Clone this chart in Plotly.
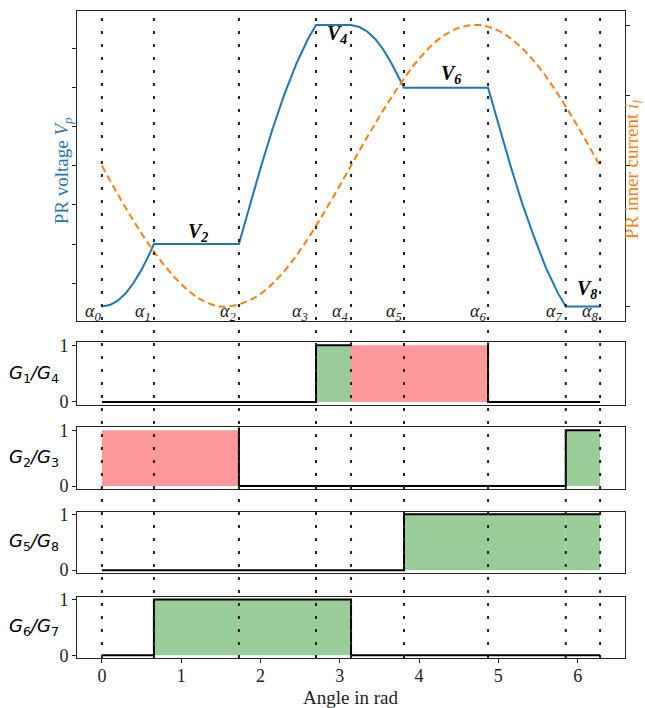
import plotly.graph_objects as go

# Switching angles alpha_0 ... alpha_8 (rad)
alpha = [0.0, 0.656, 1.728, 2.700, 3.142, 3.810, 4.870, 5.850, 6.283]

# PR voltage v_p over one period (arbitrary units)
theta_v = [0.0, 0.1, 0.2, 0.3, 0.4, 0.5, 0.6, 0.656,
           1.728, 1.85, 2.0, 2.15, 2.3, 2.45, 2.6, 2.70,
           3.142, 3.25, 3.35, 3.45, 3.55, 3.65, 3.75, 3.81,
           4.87, 5.0, 5.15, 5.3, 5.45, 5.6, 5.75, 5.85,
           6.283]
vp = [-3.60, -3.56, -3.45, -3.26, -2.99, -2.66, -2.25, -2.00,
      -2.00, -1.11, -0.06, 0.93, 1.82, 2.60, 3.25, 3.60,
      3.60, 3.55, 3.43, 3.24, 2.97, 2.63, 2.22, 2.00,
      2.00, 1.06, 0.02, -0.96, -1.82, -2.61, -3.25, -3.60,
      -3.60]

# PR inner current i_l (normalised)
theta_i = [0.0, 0.25, 0.5, 0.75, 1.0, 1.25, 1.5, 1.75, 2.0, 2.25, 2.5, 2.75,
           3.0, 3.25, 3.5, 3.75, 4.0, 4.25, 4.5, 4.75, 5.0, 5.25, 5.5, 5.75,
           6.0, 6.283]
il = [0.00, -0.25, -0.48, -0.68, -0.84, -0.95, -1.00, -0.98, -0.91, -0.78,
      -0.60, -0.38, -0.14, 0.11, 0.35, 0.57, 0.76, 0.90, 0.98, 1.00, 0.96,
      0.86, 0.71, 0.51, 0.28, 0.00]

# Voltage level labels
level_names = ["V<sub>2</sub>", "V<sub>4</sub>", "V<sub>6</sub>", "V<sub>8</sub>"]
level_theta = [1.21, 2.96, 4.40, 6.12]
level_v = [-1.70, 3.37, 2.33, -3.16]

# Gate states in the eight intervals between successive angles:
# 0 = off, 1 = on (type A), 2 = on (type B)
gate_labels = ["G<sub>1</sub>/G<sub>4</sub>", "G<sub>2</sub>/G<sub>3</sub>",
               "G<sub>5</sub>/G<sub>8</sub>", "G<sub>6</sub>/G<sub>7</sub>"]
gate_states = [
    [0, 0, 0, 1, 2, 2, 0, 0],
    [2, 2, 0, 0, 0, 0, 0, 1],
    [0, 0, 0, 0, 0, 1, 1, 1],
    [0, 1, 1, 1, 0, 0, 0, 0],
]
x_ticks = [0, 1, 2, 3, 4, 5, 6]

# ---------------------------------------------------------------- styling
BLUE = "#1f77b4"
ORANGE = "#ff7f0e"
FILL = {1: "rgb(153,204,153)", 2: "rgb(255,153,153)"}
SERIF = "Liberation Serif"
SANS = "DejaVu Sans"
AX = "#222222"

W, H = 645, 708
ML, MR, MT, MB = 77, 20, 4, 50
plot_w = W - ML - MR
plot_h = H - MT - MB


def dom(top_px, bot_px):
    return [(H - MB - bot_px) / plot_h, (H - MB - top_px) / plot_h]


def px_x(px):
    return (px - ML) / plot_w


def px_y(py):
    return (H - MB - py) / plot_h


top_dom = dom(4, 317)
gate_doms = [dom(339, 402), dom(425, 487), dom(510, 572), dom(596, 658)]
xr = [-0.314, 6.597]

fig = go.Figure()

fig.add_trace(go.Scatter(x=theta_v, y=vp, mode="lines", xaxis="x", yaxis="y",
                         line=dict(color=BLUE, width=2), showlegend=False))
fig.add_trace(go.Scatter(x=theta_i, y=il, mode="lines", xaxis="x", yaxis="y2",
                         line=dict(color=ORANGE, width=2, dash="7px,4px",
                                   shape="spline"), showlegend=False))

for g, states in enumerate(gate_states):
    xa = "x%d" % (g + 3)
    ya = "y%d" % (g + 3)
    for k, s in enumerate(states):
        if s:
            fig.add_trace(go.Scatter(x=[alpha[k], alpha[k + 1]], y=[1, 1],
                                     xaxis=xa, yaxis=ya, mode="lines",
                                     fill="tozeroy", fillcolor=FILL[s],
                                     line=dict(width=0), showlegend=False,
                                     hoverinfo="skip"))
    fig.add_trace(go.Scatter(x=alpha, y=states + [states[-1]], xaxis=xa, yaxis=ya,
                             mode="lines", line=dict(color="black", width=2, shape="hv"),
                             showlegend=False))

shapes = []
for a in alpha:
    shapes.append(dict(type="line", xref="x", yref="paper", x0=a, x1=a, y0=0, y1=1,
                       line=dict(color=AX, width=2, dash="3px,10px"), layer="above"))

ann = []
shift = [1, -1, -1, -6, -1, 0, 0, -2, 0]
for k, a in enumerate(alpha):
    ann.append(dict(x=a, y=-3.75, xref="x", yref="y", xanchor="right", yanchor="middle",
                    text="<i>α</i><sub><i>%d</i></sub>" % k, showarrow=False,
                    xshift=shift[k], font=dict(family=SERIF, size=18, color=AX)))
for name, t, v in zip(level_names, level_theta, level_v):
    ann.append(dict(x=t, y=v, xref="x", yref="y", xanchor="center", yanchor="middle",
                    text="<b><i>%s</i></b>" % name,
                    showarrow=False, font=dict(family=SERIF, size=20, color="black")))
for g, lab in enumerate(gate_labels):
    d = gate_doms[g]
    ann.append(dict(x=px_x(34), y=(d[0] + d[1]) / 2, xref="paper", yref="paper",
                    xanchor="center", yanchor="middle",
                    text="<i>%s</i>" % lab.replace("<sub>", "</i><sub>")
                    .replace("</sub>", "</sub><i>"), showarrow=False,
                    font=dict(family=SANS, size=18, color="black")))
ann.append(dict(x=px_x(63), y=px_y(166), xref="paper", yref="paper",
                xanchor="center", yanchor="middle",
                text="PR voltage <i>V<sub>p</sub></i>", textangle=-90,
                showarrow=False, font=dict(family=SERIF, size=19, color=BLUE)))
ann.append(dict(x=px_x(633), y=px_y(164), xref="paper", yref="paper",
                xanchor="center", yanchor="middle",
                text="PR inner current <i>i<sub>l</sub></i>", textangle=-90,
                showarrow=False, font=dict(family=SERIF, size=19, color=ORANGE)))
ann.append(dict(x=px_x(350), y=px_y(698), xref="paper", yref="paper",
                xanchor="center", yanchor="middle", text="Angle in rad", showarrow=False,
                font=dict(family=SERIF, size=19, color=AX)))

box = dict(showline=True, mirror=True, linecolor=AX, linewidth=1, showgrid=False,
           zeroline=False)

layout = dict(
    width=W, height=H, autosize=False,
    margin=dict(l=ML, r=MR, t=MT, b=MB),
    plot_bgcolor="white", paper_bgcolor="white",
    shapes=shapes, annotations=ann,
    xaxis=dict(domain=[0, 1], anchor="y", range=xr, showticklabels=False, ticks="", **box),
    yaxis=dict(domain=top_dom, anchor="x", range=[-3.96, 3.96], tickvals=[-3, -2, -1, 0, 1, 2, 3],
               showticklabels=False, ticks="outside", ticklen=4, tickcolor=AX, **box),
    yaxis2=dict(domain=top_dom, anchor="x", overlaying="y", side="right", range=[-1.1, 1.1],
                tickvals=[-1, -0.5, 0, 0.5, 1], showticklabels=False, ticks="outside",
                ticklen=4, tickcolor=AX, showgrid=False, zeroline=False),
)
for g in range(4):
    n = g + 3
    last = g == 3
    xa = dict(domain=[0, 1], anchor="y%d" % n, range=xr,
              tickvals=x_ticks if last else [],
              showticklabels=last, ticks="outside" if last else "",
              ticklen=4, tickcolor=AX,
              tickfont=dict(family=SERIF, size=18, color=AX), **box)
    if last:
        xa["ticklabelstandoff"] = -3
    layout["xaxis%d" % n] = xa
    layout["yaxis%d" % n] = dict(domain=gate_doms[g], anchor="x%d" % n, range=[-0.05, 1.05],
                                 tickvals=[0, 1], ticks="outside", ticklen=4, tickcolor=AX,
                                 tickfont=dict(family=SERIF, size=18, color=AX), **box)

fig.update_layout(**layout)
fig.write_html("out.html")
